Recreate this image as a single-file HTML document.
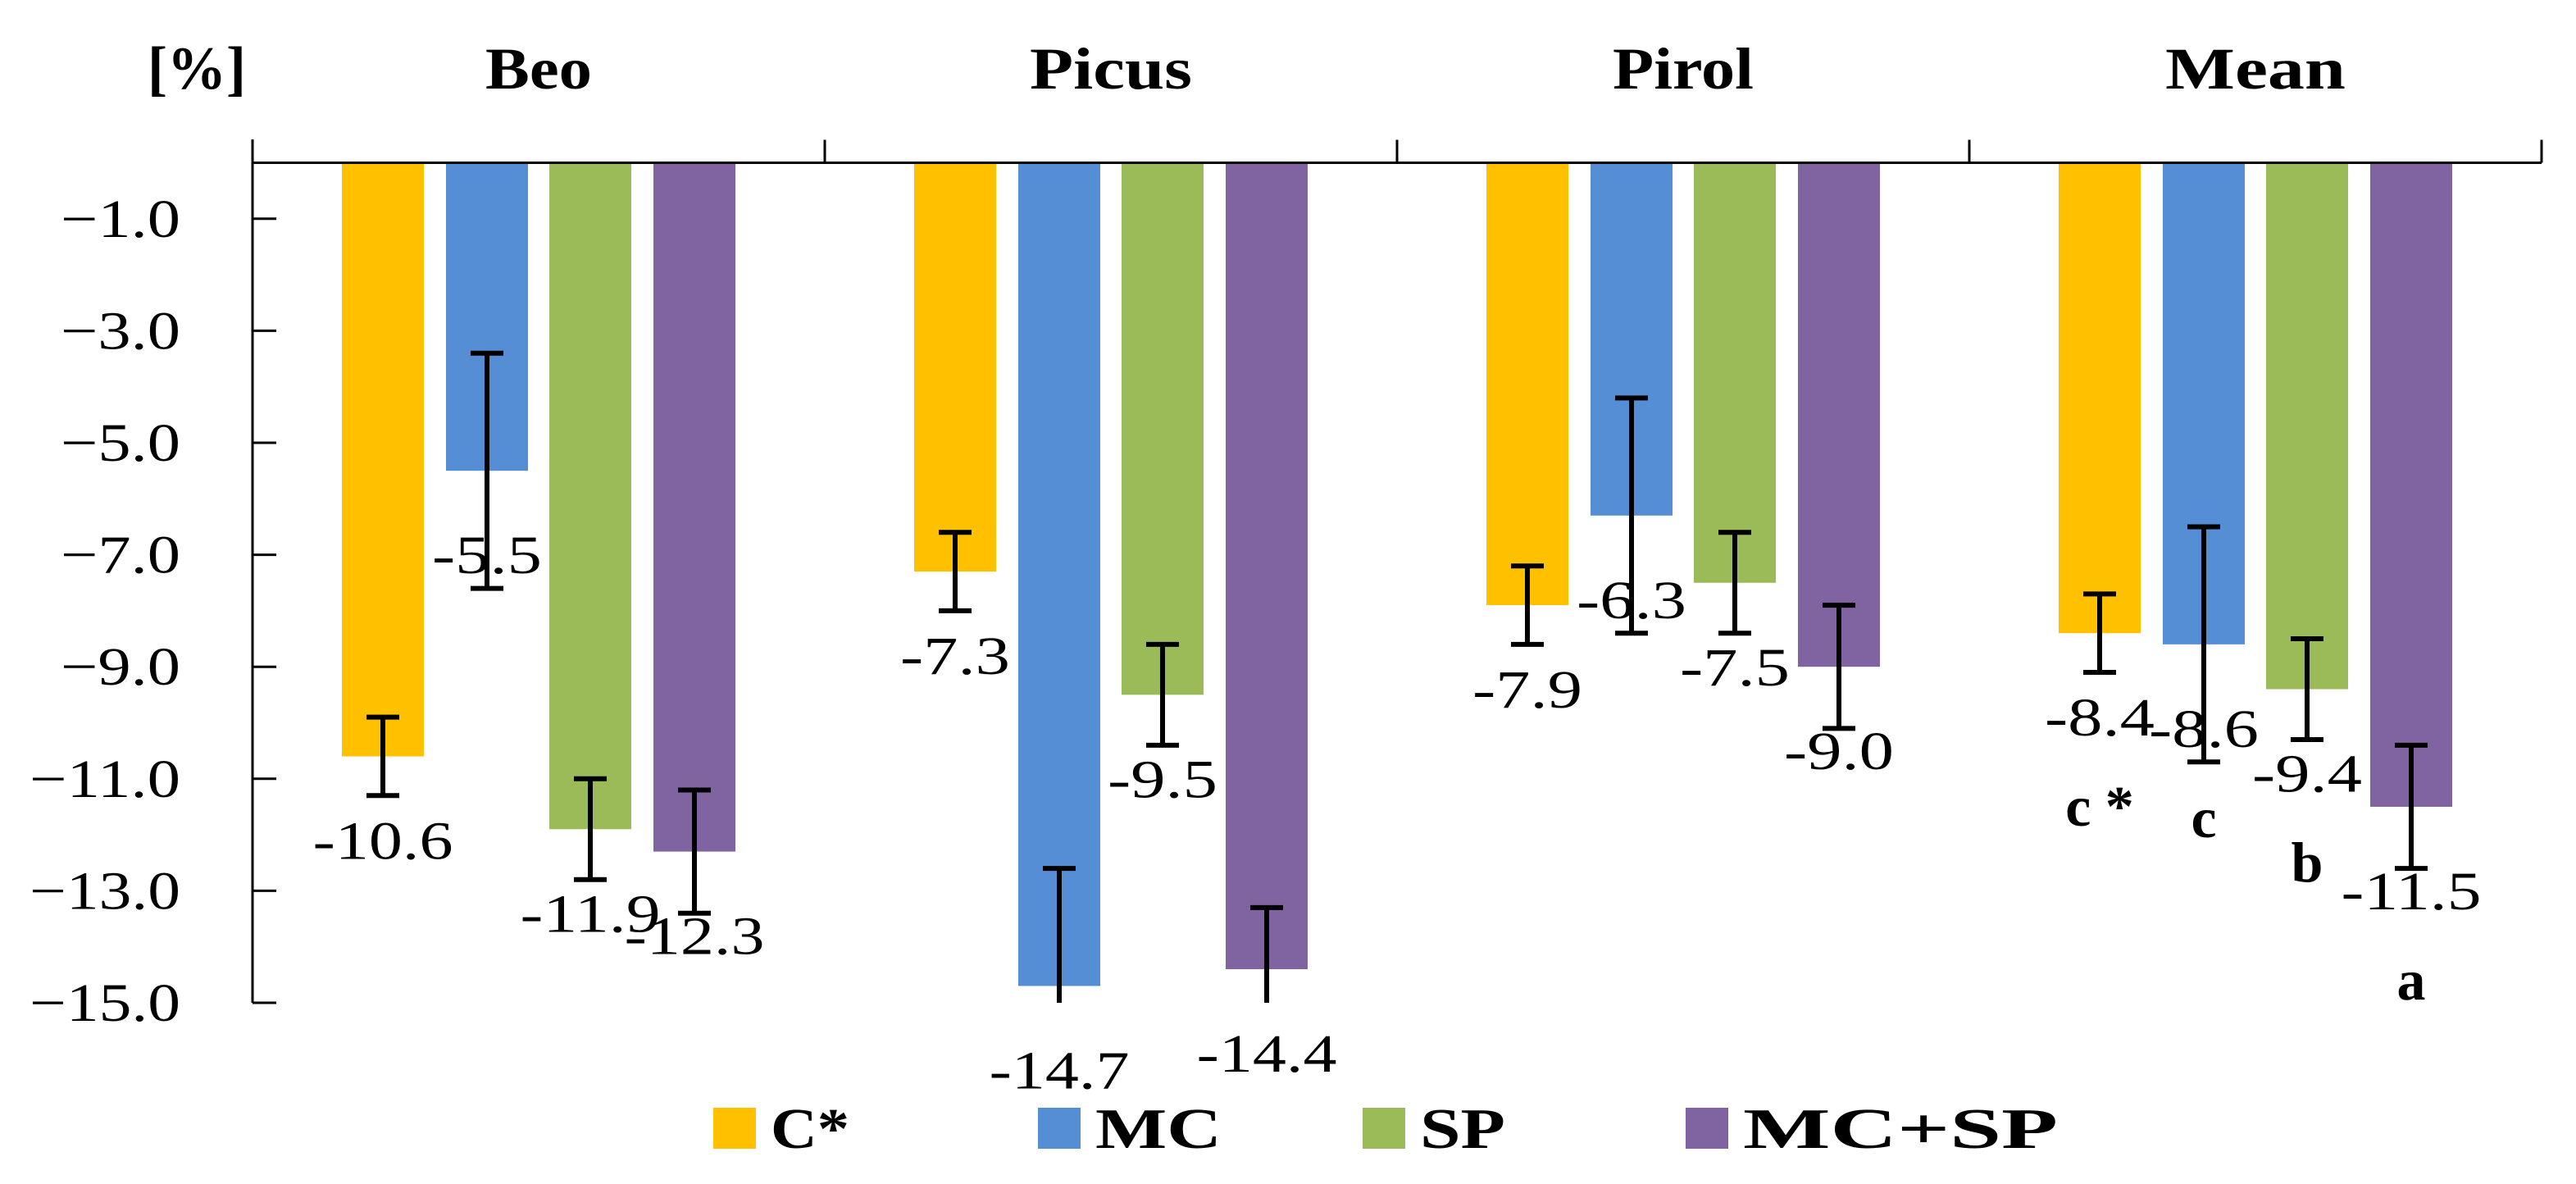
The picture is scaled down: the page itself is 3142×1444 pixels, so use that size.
<!DOCTYPE html>
<html><head><meta charset="utf-8"><style>
html,body{margin:0;padding:0;background:#fff;}
svg{display:block;}
text{font-family:"Liberation Serif",serif;fill:#000;}
</style></head><body>
<svg id="chart" width="3142" height="1444" viewBox="0 0 3142 1444" xmlns="http://www.w3.org/2000/svg">
<g id="axes"></g><g id="bars"></g><g id="labels"></g><g id="legend"></g>
</svg>
<script>
const categories = ["Beo", "Picus", "Pirol", "Mean"];
const seriesNames = ["C*", "MC", "SP", "MC+SP"];
const colors = ["#FFC000", "#558ED5", "#9BBB59", "#8064A2"];
const valuesC = [-10.6, -7.3, -7.9, -8.4];
const valuesMC = [-5.5, -14.7, -6.3, -8.6];
const valuesSP = [-11.9, -9.5, -7.5, -9.4];
const valuesMCSP = [-12.3, -14.4, -9.0, -11.5];
const errC = [0.7, 0.7, 0.7, 0.7];
const errMC = [2.1, 2.1, 2.1, 2.1];
const errSP = [0.9, 0.9, 0.9, 0.9];
const errMCSP = [1.1, 1.1, 1.1, 1.1];
const meanLetters = ["c *", "c", "b", "a"];
const yTicks = [-1, -3, -5, -7, -9, -11, -13, -15];
const yTickLabels = ["−1.0", "−3.0", "−5.0", "−7.0", "−9.0", "−11.0", "−13.0", "−15.0"];

const NS = "http://www.w3.org/2000/svg";
const X0 = 308, X1 = 3100, Y0 = 198.5, UNIT = 68.3, YMIN = -15;
const catW = (X1 - X0) / categories.length;
const yScale = v => Y0 - v * UNIT;
const catCenter = i => X0 + catW * (i + 0.5);
const barOffsets = [-190, -63, 63, 190];
const BW = 100;
const titleWidths = [130, 198, 172, 220];
const legendWidths = [96, 154, 104, 384];
function mk(tag, attrs, parent, txt) {
  const e = document.createElementNS(NS, tag);
  for (const k in attrs) e.setAttribute(k, attrs[k]);
  if (txt !== undefined) e.textContent = txt;
  parent.appendChild(e);
  return e;
}
const axes = document.getElementById("axes");
const barsG = document.getElementById("bars");
const labelsG = document.getElementById("labels");
const legendG = document.getElementById("legend");

let e = mk("line", {x1: X0, y1: 170, x2: X0, y2: yScale(YMIN), stroke: "#000", "stroke-width": 3}, axes);


e = mk("line", {x1: X0, y1: Y0, x2: X1, y2: Y0, stroke: "#000", "stroke-width": 3}, axes);


for (let i = 1; i <= categories.length; i++) {
  e = mk("line", {x1: X0 + catW * i, y1: Y0 - 28, x2: X0 + catW * i, y2: Y0, stroke: "#000", "stroke-width": 3}, axes);
  
  
}
yTicks.forEach((v, i) => {
  const y = yScale(v);
  let t = mk("line", {x1: X0, y1: y, x2: X0 + 29, y2: y, stroke: "#000", "stroke-width": 3}, axes);
  
  
  const w = yTickLabels[i].length >= 5 ? 184 : 146;
  t = mk("text", {x: 220 - w, y: y + 22, "font-size": 66, textLength: w, lengthAdjust: "spacingAndGlyphs"}, axes, yTickLabels[i]);
  
  
});
e = mk("text", {x: 180, y: 108, "font-size": 74, "font-weight": "bold", textLength: 120, lengthAdjust: "spacingAndGlyphs"}, axes, "[%]");


categories.forEach((c, i) => {
  const t = mk("text", {x: catCenter(i) - titleWidths[i] / 2, y: 108, "font-size": 72, "font-weight": "bold", textLength: titleWidths[i], lengthAdjust: "spacingAndGlyphs"}, axes, c);
  
  
});

const allVals = [valuesC, valuesMC, valuesSP, valuesMCSP];
const allErr = [errC, errMC, errSP, errMCSP];
allVals.forEach((vals, s) => {
  vals.forEach((v, i) => {
    const cx = catCenter(i) + barOffsets[s];
    const yv = yScale(v);
    let r = mk("rect", {x: cx - BW / 2, y: Y0 + 1.5, width: BW, height: yv - Y0 - 1.5, fill: colors[s]}, barsG);
    
    
    const eTop = yScale(v + allErr[s][i]);
    const lowVal = Math.max(v - allErr[s][i], YMIN);
    const eBot = yScale(lowVal);
    const g = mk("g", {stroke: "#000", "stroke-width": 6}, barsG);
    
    
    mk("line", {x1: cx, y1: eTop, x2: cx, y2: eBot}, g);
    mk("line", {x1: cx - 20, y1: eTop, x2: cx + 20, y2: eTop}, g);
    if (v - allErr[s][i] >= YMIN) mk("line", {x1: cx - 20, y1: eBot, x2: cx + 20, y2: eBot}, g);
    const txt = v.toFixed(1);
    const w = txt.length >= 5 ? 171 : 134;
    let t = mk("text", {x: cx - w / 2, y: yv + 125, "font-size": 66, textLength: w, lengthAdjust: "spacingAndGlyphs"}, labelsG, txt);
    
    
    if (i === categories.length - 1) {
      t = mk("text", {x: cx, y: yv + 235, "font-size": 70, "font-weight": "bold", "text-anchor": "middle"}, labelsG, meanLetters[s]);
      
      
    }
  });
});

const legX = [870, 1266, 1662, 2056];
seriesNames.forEach((n, s) => {
  const g = mk("g", {}, legendG);
  
  
  mk("rect", {x: legX[s], y: 1351, width: 52, height: 50, fill: colors[s]}, g);
  mk("text", {x: legX[s] + 70, y: 1400, "font-size": 70, "font-weight": "bold", textLength: legendWidths[s], lengthAdjust: "spacingAndGlyphs"}, g, n);
});
</script>
</body></html>
